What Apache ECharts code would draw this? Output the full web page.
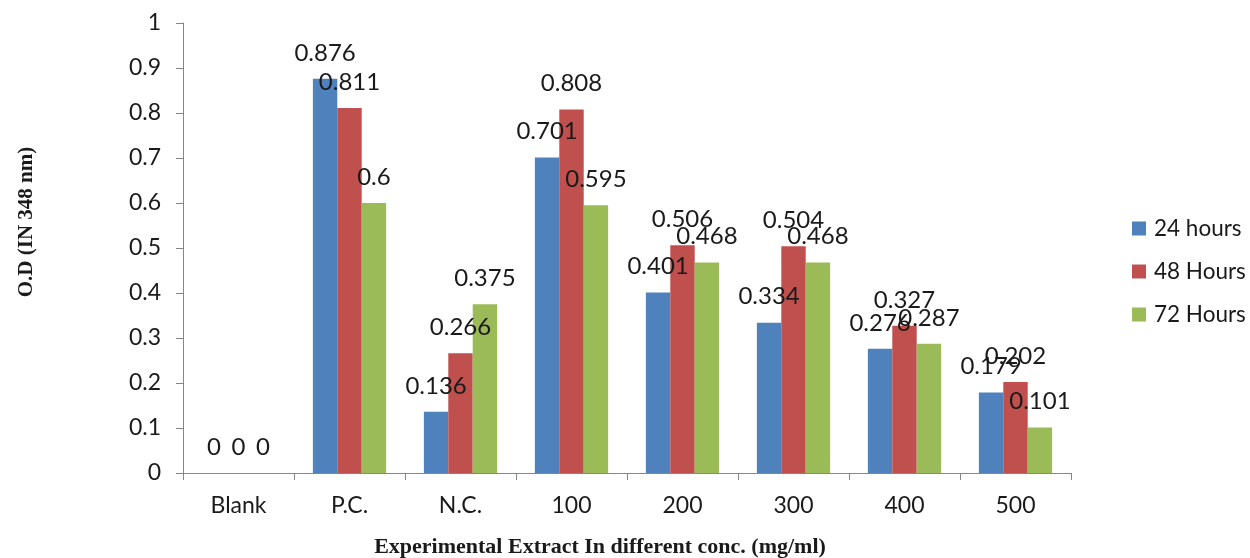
<!DOCTYPE html>
<html>
<head>
<meta charset="utf-8">
<style>
  html, body { margin: 0; padding: 0; background: #fff; }
  #chart { width: 1250px; height: 558px; }
</style>
<script src="https://cdn.jsdelivr.net/npm/echarts@6/dist/echarts.min.js"></script>
</head>
<body>
<div id="chart"></div>
<script>
// Optical density readings per extract concentration and incubation time
const categories = ['Blank', 'P.C.', 'N.C.', '100', '200', '300', '400', '500'];
const hours24 = [0, 0.876, 0.136, 0.701, 0.401, 0.334, 0.276, 0.179];
const hours48 = [0, 0.811, 0.266, 0.808, 0.506, 0.504, 0.327, 0.202];
const hours72 = [0, 0.6, 0.375, 0.595, 0.468, 0.468, 0.287, 0.101];
const seriesNames = ['24 hours', '48 Hours', '72 Hours'];
const colors = ['#4F81BD', '#C0504D', '#9BBB59'];

const labelFont = "Lato, 'Open Sans', sans-serif";
const serifFont = "'Liberation Serif', 'DejaVu Serif', serif";
const textColor = '#1a1a1a';
const axisGray = '#868686';

function barSeries(name, data, color) {
  return {
    name: name,
    type: 'bar',
    data: data,
    itemStyle: { color: color },
    barGap: '0%',
    barCategoryGap: '34%',
    label: {
      show: true,
      position: 'top',
      distance: 14,
      color: textColor,
      fontFamily: labelFont,
      fontSize: 24,
      formatter: p => String(p.value)
    }
  };
}

const chart = echarts.init(document.getElementById('chart'));
chart.setOption({
  animation: false,
  color: colors,
  grid: { left: 183, right: 179, top: 23, bottom: 85, outerBoundsMode: 'none' },
  legend: {
    orient: 'vertical',
    left: 1127,
    top: 212,
    itemWidth: 14,
    itemHeight: 14,
    itemGap: 20,
    icon: 'rect',
    textStyle: { fontFamily: labelFont, fontSize: 22.5, color: textColor, padding: [0, 0, 0, 3] },
    data: seriesNames
  },
  xAxis: {
    type: 'category',
    data: categories,
    name: 'Experimental Extract In different conc. (mg/ml)',
    nameLocation: 'middle',
    nameGap: 63,
    nameTextStyle: {
      fontFamily: serifFont, fontWeight: 'bold', fontSize: 22, color: textColor,
      padding: [0, 54, 0, 0]
    },
    axisLine: { lineStyle: { color: axisGray, width: 1 } },
    axisTick: { show: true, length: 7, lineStyle: { color: axisGray } },
    axisLabel: { fontFamily: labelFont, fontSize: 23, color: textColor, margin: 21 }
  },
  yAxis: {
    type: 'value',
    min: 0,
    max: 1,
    interval: 0.1,
    name: 'O.D (IN 348 nm)',
    nameLocation: 'middle',
    nameGap: 146,
    nameRotate: 90,
    nameTextStyle: {
      fontFamily: serifFont, fontWeight: 'bold', fontSize: 21, color: textColor,
      padding: [0, 0, 0, 52]
    },
    splitLine: { show: false },
    axisLine: { show: true, lineStyle: { color: axisGray, width: 1 } },
    axisTick: { show: true, length: 7, lineStyle: { color: axisGray } },
    axisLabel: {
      fontFamily: labelFont, fontSize: 23, color: textColor, margin: 22,
      formatter: v => String(Math.round(v * 10) / 10)
    }
  },
  series: [
    barSeries(seriesNames[0], hours24, colors[0]),
    barSeries(seriesNames[1], hours48, colors[1]),
    barSeries(seriesNames[2], hours72, colors[2])
  ]
});
</script>
</body>
</html>
